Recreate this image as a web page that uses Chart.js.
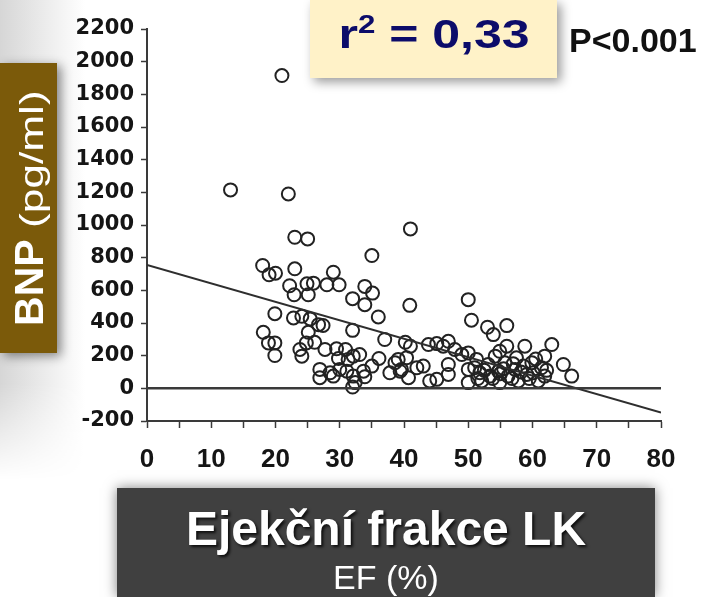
<!DOCTYPE html>
<html lang="cs">
<head>
    <meta charset="UTF-8">
    <title>BNP vs EF</title>
    <style>
        body {
            margin: 0;
            width: 702px;
            height: 597px;
            overflow: hidden;
            background: #fff;
            font-family: "Liberation Sans", Arial, sans-serif;
            position: relative;
        }
        .shade {
            position: absolute;
            left: 0;
            top: 0;
            width: 90px;
            height: 480px;
            background: linear-gradient(to right, #d6d6d6, #ffffff 85px);
            -webkit-mask-image: linear-gradient(to bottom, #000 80%, transparent);
        }
        #chart {
            position: absolute;
            left: 0;
            top: 0;
        }
        .ylabel-box {
            position: absolute;
            left: 0;
            top: 63px;
            width: 57px;
            height: 290px;
            background: #7b5a0a;
            box-shadow: 4px 3px 10px rgba(0,0,0,0.45);
        }
        .ylabel-box .txt {
            position: absolute;
            left: 50%;
            top: 50%;
            white-space: nowrap;
            color: #fff;
            transform: translate(-50%, -50%) rotate(-90deg);
            font-size: 41px;
            line-height: 1;
        }
        .ylabel-box b { font-weight: bold; }
        .ylabel-box .unit {
            display: inline-block;
            font-size: 34px;
            transform: scaleX(1.3);
            transform-origin: left center;
            margin-right: 32px;
        }
        .r2-box {
            position: absolute;
            left: 310px;
            top: 0;
            width: 247px;
            height: 78px;
            background: #fff2c8;
            box-shadow: 4px 4px 10px rgba(0,0,0,0.4);
        }
        .r2-box div {
            position: absolute;
            left: 50%;
            top: 34px;
            transform: translate(-50%, -50%) scaleX(1.25);
            color: #0c0c6a;
            font-weight: bold;
            font-size: 40px;
            white-space: nowrap;
        }
        .r2-box sup { font-size: 25px; vertical-align: 15px; line-height: 0; }
        .pval {
            position: absolute;
            left: 569px;
            top: 21px;
            font-weight: bold;
            font-size: 34px;
            color: #111;
            white-space: nowrap;
        }
        .xlabel-box {
            position: absolute;
            left: 117px;
            top: 488px;
            width: 538px;
            height: 109px;
            background: #404040;
            box-shadow: 0 0 12px rgba(0,0,0,0.5);
            color: #fff;
            text-align: center;
        }
        .xlabel-box .main {
            position: absolute;
            left: 0; right: 0;
            top: 13px;
            font-weight: bold;
            font-size: 48px;
            text-shadow: 2px 2px 3px rgba(0,0,0,0.8);
        }
        .xlabel-box .sub {
            position: absolute;
            left: 0; right: 0;
            top: 70px;
            font-size: 34px;
        }
    </style>
</head>
<body>
    <div class="shade"></div>
    <canvas id="chart" width="702" height="597"></canvas>
    <div class="ylabel-box"><span class="txt"><b>BNP</b> <span class="unit">(pg/ml)</span></span></div>
    <div class="r2-box"><div>r<sup>2</sup> = 0,33</div></div>
    <div class="pval">P&lt;0.001</div>
    <div class="xlabel-box">
        <div class="main">Ejekční frakce LK</div>
        <div class="sub">EF (%)</div>
    </div>
    <script src="https://cdn.jsdelivr.net/npm/chart.js"></script>
    <script>
        // EF (%) of each patient
        const efValues = [
            13, 21, 22, 23, 25, 35, 41, 18, 19, 20,
            23, 22.2, 22.9, 24.9, 25.9, 25.1, 29, 28, 29.9, 32,
            33.9, 35.1, 33.9, 36, 40.9, 19.9, 22.8, 24.1, 25.4, 26.7,
            27.4, 18.1, 18.9, 19.9, 19.9, 25.1, 24.8, 26.1, 23.8, 24.1,
            27.7, 29.5, 32, 30.9, 33.1, 32.1, 29.8, 26.9, 26.9, 28.5,
            30, 31.1, 32.1, 32, 33.9, 35, 36.1, 37, 37.8, 39.1,
            39.6, 40.4, 40.2, 40.7, 50, 50.5, 53, 53.9, 56, 56,
            54.9, 58.8, 63, 61.9, 64.8, 66.1, 41, 43.8, 45.1, 46.1,
            46.9, 47.9, 49, 50, 38.6, 39.4, 42, 43, 44, 45.1,
            46.9, 46.9, 50, 51, 51.8, 52.1, 53.1, 53.4, 54.2, 54.7,
            54.9, 55.7, 56.2, 57.3, 57.5, 57.8, 58.6, 59.1, 59.9, 60.1,
            60.9, 61.4, 61.9, 51.3, 31.3, 29, 32.4, 33.7, 50, 52.5,
            55.5, 56.8, 58.2, 59.5, 60.5, 53.8, 57, 62.2, 51.5, 55
        ];
        // BNP (pg/ml) of each patient
        const bnpValues = [
            1215, 1915, 1190, 925, 915, 813, 976, 752, 695, 705,
            732, 628, 573, 640, 644, 573, 711, 634, 634, 549,
            624, 583, 512, 437, 508, 457, 431, 441, 425, 390,
            385, 343, 278, 278, 201, 343, 278, 282, 238, 197,
            238, 242, 355, 238, 207, 197, 183, 116, 65, 95,
            116, 105, 75, 8, 71, 136, 183, 299, 95, 177,
            116, 187, 282, 65, 543, 417, 374, 329, 384, 258,
            227, 258, 268, 197, 146, 75, 258, 268, 274, 258,
            288, 238, 207, 217, 157, 105, 126, 136, 45, 55,
            146, 85, 35, 126, 95, 45, 146, 75, 197, 105,
            35, 157, 75, 116, 187, 45, 136, 85, 157, 95,
            45, 126, 75, 177, 177, 75, 35, 105, 116, 110,
            120, 60, 100, 60, 180, 60, 150, 110, 60, 90
        ];
        // regression line end points
        const fitX = [0, 80];
        const fitY = [755, -148];
        // reference line at BNP = 0
        const zeroX = [0, 80];
        const zeroY = [0, 0];

        const xTicks = [0, 10, 20, 30, 40, 50, 60, 70, 80];

        const points = efValues.map((x, i) => ({ x: x, y: bnpValues[i] }));
        const fitLine = fitX.map((x, i) => ({ x: x, y: fitY[i] }));
        const zeroLine = zeroX.map((x, i) => ({ x: x, y: zeroY[i] }));

        const axisColor = '#3a3a3a';

        new Chart(document.getElementById('chart'), {
            type: 'scatter',
            data: {
                datasets: [
                    {
                        data: zeroLine,
                        showLine: true,
                        pointRadius: 0,
                        borderColor: '#3a3a3a',
                        borderWidth: 2.5
                    },
                    {
                        data: fitLine,
                        showLine: true,
                        pointRadius: 0,
                        borderColor: '#2e2e2e',
                        borderWidth: 2
                    },
                    {
                        data: points,
                        pointStyle: 'circle',
                        pointRadius: 6.5,
                        borderWidth: 2,
                        borderColor: '#222',
                        backgroundColor: 'rgba(0,0,0,0)'
                    }
                ]
            },
            options: {
                responsive: false,
                animation: false,
                layout: {
                    autoPadding: false,
                    padding: { left: 0, top: 29, right: 41, bottom: 116 }
                },
                plugins: {
                    legend: { display: false },
                    tooltip: { enabled: false }
                },
                scales: {
                    x: {
                        type: 'linear',
                        min: 0,
                        max: 80,
                        afterFit: (scale) => { scale.height = 60; },
                        afterBuildTicks: (scale) => {
                            const t = [];
                            for (let v = 0; v <= 80; v += 5) t.push({ value: v });
                            scale.ticks = t;
                        },
                        ticks: {
                            autoSkip: false,
                            maxRotation: 0,
                            padding: 16,
                            color: '#151515',
                            font: { family: 'Liberation Sans', size: 26, weight: 'bold' },
                            callback: (v) => xTicks.includes(v) ? String(v) : ''
                        },
                        grid: {
                            drawOnChartArea: false,
                            tickLength: 7,
                            tickColor: axisColor,
                            tickWidth: 1.5
                        },
                        border: { color: axisColor, width: 2 }
                    },
                    y: {
                        min: -200,
                        max: 2200,
                        afterFit: (scale) => { scale.width = 147; },
                        ticks: {
                            stepSize: 200,
                            padding: 7,
                            color: '#151515',
                            font: { family: 'DejaVu Sans', size: 21, weight: 'bold' },
                            callback: (v) => String(v)
                        },
                        grid: {
                            drawOnChartArea: false,
                            tickLength: 6,
                            tickColor: axisColor,
                            tickWidth: 1.5
                        },
                        border: { color: axisColor, width: 2 }
                    }
                }
            }
        });
    </script>
</body>
</html>
